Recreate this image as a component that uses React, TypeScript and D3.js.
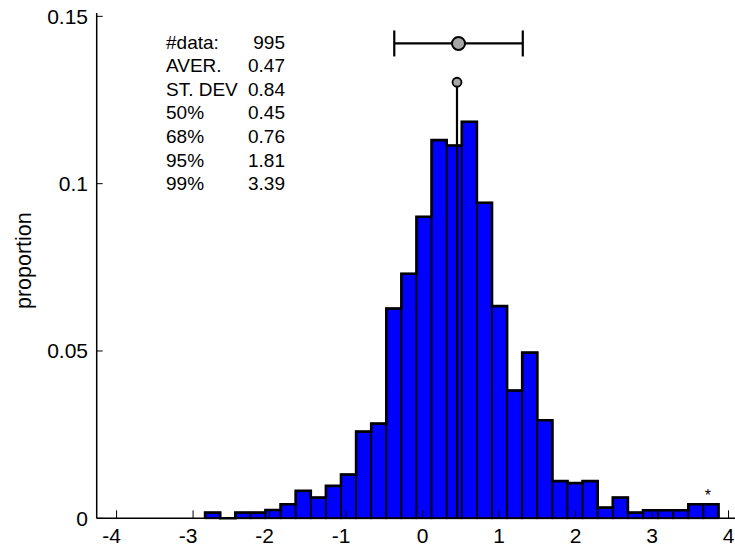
import React from 'react';
import * as d3 from 'd3';

const binStart = -2.843;
const binWidth = 0.1974;
const proportions = [
  0.0017, 0, 0.0017, 0.0017, 0.0025, 0.0042, 0.0082, 0.0062, 0.0097, 0.0131,
  0.0259, 0.0283, 0.0627, 0.0731, 0.0901, 0.113, 0.1114, 0.1185, 0.0943, 0.0634,
  0.0382, 0.0495, 0.0293, 0.0111, 0.0105, 0.0111, 0.0032, 0.0062, 0.0017, 0.0024,
  0.0024, 0.0024, 0.0042, 0.0042,
];
const xTicks = [-4, -3, -2, -1, 0, 1, 2, 3, 4];
const yTicks = [0, 0.05, 0.1, 0.15];
const yTickLabels = ['0', '0.05', '0.1', '0.15'];
const statLabels = ['#data:', 'AVER.', 'ST. DEV', '50%', '68%', '95%', '99%'];
const statValues = ['995', '0.47', '0.84', '0.45', '0.76', '1.81', '3.39'];
const mean = 0.47;
const stdev = 0.84;
const median = 0.45;
const medianMarker = 0.1303;
const errorBarLevel = 0.1419;
const starX = 3.73;
const starLevel = 0.0042;

const W = 735;
const H = 547;
const FONT = "Arial, 'Liberation Sans', Helvetica, sans-serif";

export default function App() {
  const x = d3.scaleLinear().domain([-4.26, 4.3]).range([96.7, 751.5]);
  const y = d3.scaleLinear().domain([0, 0.151]).range([518.3, 13]);

  const bins = proportions.map((p, i) => ({
    x0: binStart + i * binWidth,
    x1: binStart + (i + 1) * binWidth,
    p,
  }));

  const outline = d3
    .line<{ x: number; p: number }>()
    .x((d) => x(d.x))
    .y((d) => y(d.p))
    .curve(d3.curveStepAfter)(
    [
      { x: binStart, p: 0 },
      ...bins.map((b) => ({ x: b.x0, p: b.p })),
      { x: bins[bins.length - 1].x1, p: 0 },
    ]
  );

  const statsX = 166;
  const statsRight = 285;
  const statsTop = 42;
  const statsStep = 23.6;

  return (
    <svg
      width={W}
      height={H}
      style={{ position: 'absolute', left: 0, top: 0, overflow: 'hidden', background: '#fff' }}
      fontFamily={FONT}
    >
      <rect x={0} y={0} width={W} height={H} fill="#fff" />
      {bins.map((b, i) =>
        b.p > 0 ? (
          <rect
            key={i}
            x={x(b.x0)}
            y={y(b.p)}
            width={x(b.x1) - x(b.x0)}
            height={y(0) - y(b.p)}
            fill="#0000ff"
            stroke="#000"
            strokeWidth={1.7}
          />
        ) : null
      )}
      {outline && <path d={outline} fill="none" stroke="#000" strokeWidth={2.6} strokeLinejoin="miter" />}

      <line x1={x(-4.26)} x2={W} y1={y(0)} y2={y(0)} stroke="#000" strokeWidth={1.5} />
      <line x1={x(-4.26)} x2={x(-4.26)} y1={y(0)} y2={y(0.151)} stroke="#000" strokeWidth={1.5} />
      {xTicks.map((t) => (
        <g key={t}>
          <line x1={x(t)} x2={x(t)} y1={y(0)} y2={y(0) - 8} stroke="#000" strokeWidth={1} />
          <text
            x={x(t) + (t < 0 ? -5 : 0)}
            y={543}
            textAnchor="middle"
            fontSize={21}
            fill="#000"
          >
            {t < 0 ? '-' + Math.abs(t) : String(t)}
          </text>
        </g>
      ))}
      {yTicks.map((t, i) => (
        <g key={t}>
          <line x1={x(-4.26)} x2={x(-4.26) + 6} y1={y(t)} y2={y(t)} stroke="#000" strokeWidth={1} />
          <text x={88} y={y(t) + 7.5} textAnchor="end" fontSize={21} fill="#000">
            {yTickLabels[i]}
          </text>
        </g>
      ))}
      <text
        transform={`translate(31, ${y(0.077)}) rotate(-90)`}
        textAnchor="middle"
        fontSize={21.5}
        fill="#000"
      >
        proportion
      </text>

      <line x1={x(median)} x2={x(median)} y1={y(0)} y2={y(medianMarker)} stroke="#000" strokeWidth={2.2} />
      <circle cx={x(median)} cy={y(medianMarker)} r={4.5} fill="#a6a6a6" stroke="#000" strokeWidth={1.8} />

      <line x1={x(mean - stdev)} x2={x(mean + stdev)} y1={y(errorBarLevel)} y2={y(errorBarLevel)} stroke="#000" strokeWidth={2.2} />
      <line x1={x(mean - stdev)} x2={x(mean - stdev)} y1={y(errorBarLevel) - 13} y2={y(errorBarLevel) + 13} stroke="#000" strokeWidth={2.2} />
      <line x1={x(mean + stdev)} x2={x(mean + stdev)} y1={y(errorBarLevel) - 13} y2={y(errorBarLevel) + 13} stroke="#000" strokeWidth={2.2} />
      <circle cx={x(mean)} cy={y(errorBarLevel)} r={6.5} fill="#a6a6a6" stroke="#000" strokeWidth={2} />

      <text x={x(starX)} y={y(starLevel) - 3} textAnchor="middle" fontSize={16} fill="#000">
        *
      </text>

      {statLabels.map((l, i) => (
        <g key={l}>
          <text x={statsX} y={statsTop + i * statsStep + 6.5} fontSize={19} fill="#000">
            {l}
          </text>
          <text x={statsRight} y={statsTop + i * statsStep + 6.5} textAnchor="end" fontSize={19} fill="#000">
            {statValues[i]}
          </text>
        </g>
      ))}
    </svg>
  );
}
